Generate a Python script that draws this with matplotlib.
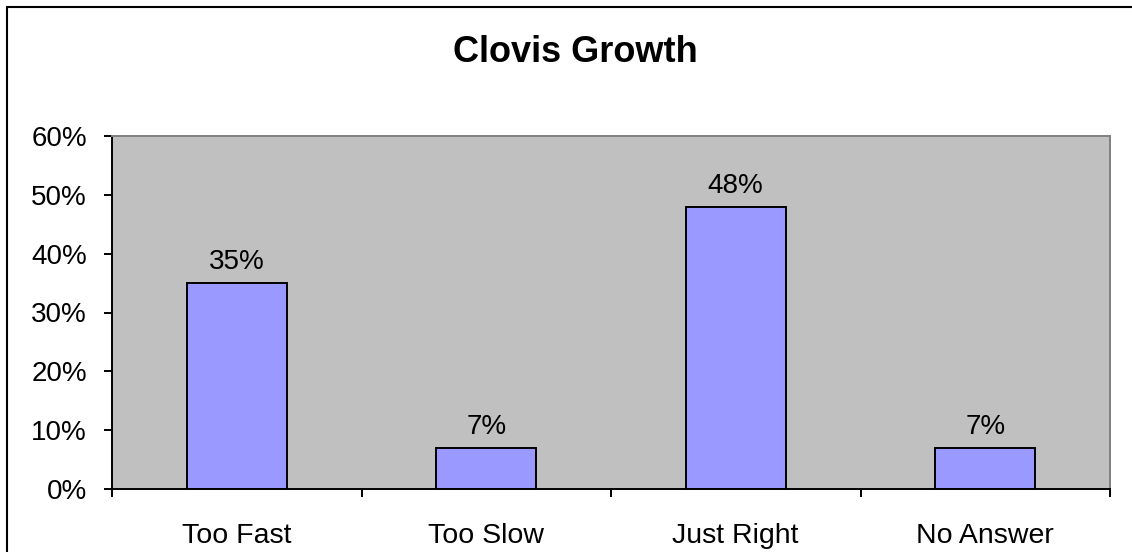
import matplotlib
matplotlib.use("Agg")
import matplotlib.pyplot as plt
import numpy as np
from matplotlib.patches import Rectangle
from matplotlib.ticker import FixedLocator, PercentFormatter

# Survey answers for the chart
categories = ["Too Fast", "Too Slow", "Just Right", "No Answer"]
shares = [35, 7, 48, 7]
y_ticks = [0, 10, 20, 30, 40, 50, 60]

plt.rcParams["font.family"] = ["Liberation Sans", "DejaVu Sans"]

W, H = 1132, 552
PX = 72 / 100  # points per pixel at dpi 100
fig = plt.figure(figsize=(W / 100, H / 100), dpi=100)
ax = fig.add_axes([112 / W, 1 - 489 / H, (1110 - 112) / W, (489 - 136) / H])

x = np.arange(len(categories))
bars = ax.bar(x, shares, width=0.4, color="#9999FF", edgecolor="black",
              linewidth=1.4, zorder=2)

ax.set_facecolor("#C0C0C0")
ax.set_xlim(-0.5, len(categories) - 0.5)
ax.set_ylim(0, 60)

# value labels above each bar
for b, v in zip(bars, shares):
    ax.annotate(f"{v}%", (b.get_x() + b.get_width() / 2, v),
                xytext=(0, 14 * PX), textcoords="offset points",
                ha="center", va="baseline", fontsize=20)

# y axis: percent ticks, outward
ax.set_yticks(y_ticks)
ax.yaxis.set_major_formatter(PercentFormatter(decimals=0))
ax.tick_params(axis="y", direction="out", length=8 * PX, width=1.4,
               labelsize=20, pad=17 * PX)

# x axis: tick marks on category boundaries, labels centred between them
ax.xaxis.set_major_locator(FixedLocator(np.arange(len(categories) + 1) - 0.5))
ax.set_xticklabels([])
ax.tick_params(axis="x", direction="out", length=8 * PX, width=1.4)
for i, name in enumerate(categories):
    ax.annotate(name, (i, 0), xycoords=("data", "axes fraction"),
                xytext=(0, -54.3 * PX), textcoords="offset points",
                ha="center", va="baseline", fontsize=20.5)

for side in ("left", "bottom"):
    ax.spines[side].set_color("black")
    ax.spines[side].set_linewidth(1.4)
for side in ("top", "right"):
    ax.spines[side].set_color("#808080")
    ax.spines[side].set_linewidth(1.4)

fig.text(575 / W, 1 - 61.5 / H, "Clovis Growth", ha="center", va="baseline",
         fontsize=26, fontweight="bold")

# chart frame
frame = Rectangle((7, -20), W + 20, H + 20 - 7, transform=None, fill=False,
                  edgecolor="black", linewidth=1.5)
fig.patches.append(frame)

fig.savefig("out.png", dpi=100)
